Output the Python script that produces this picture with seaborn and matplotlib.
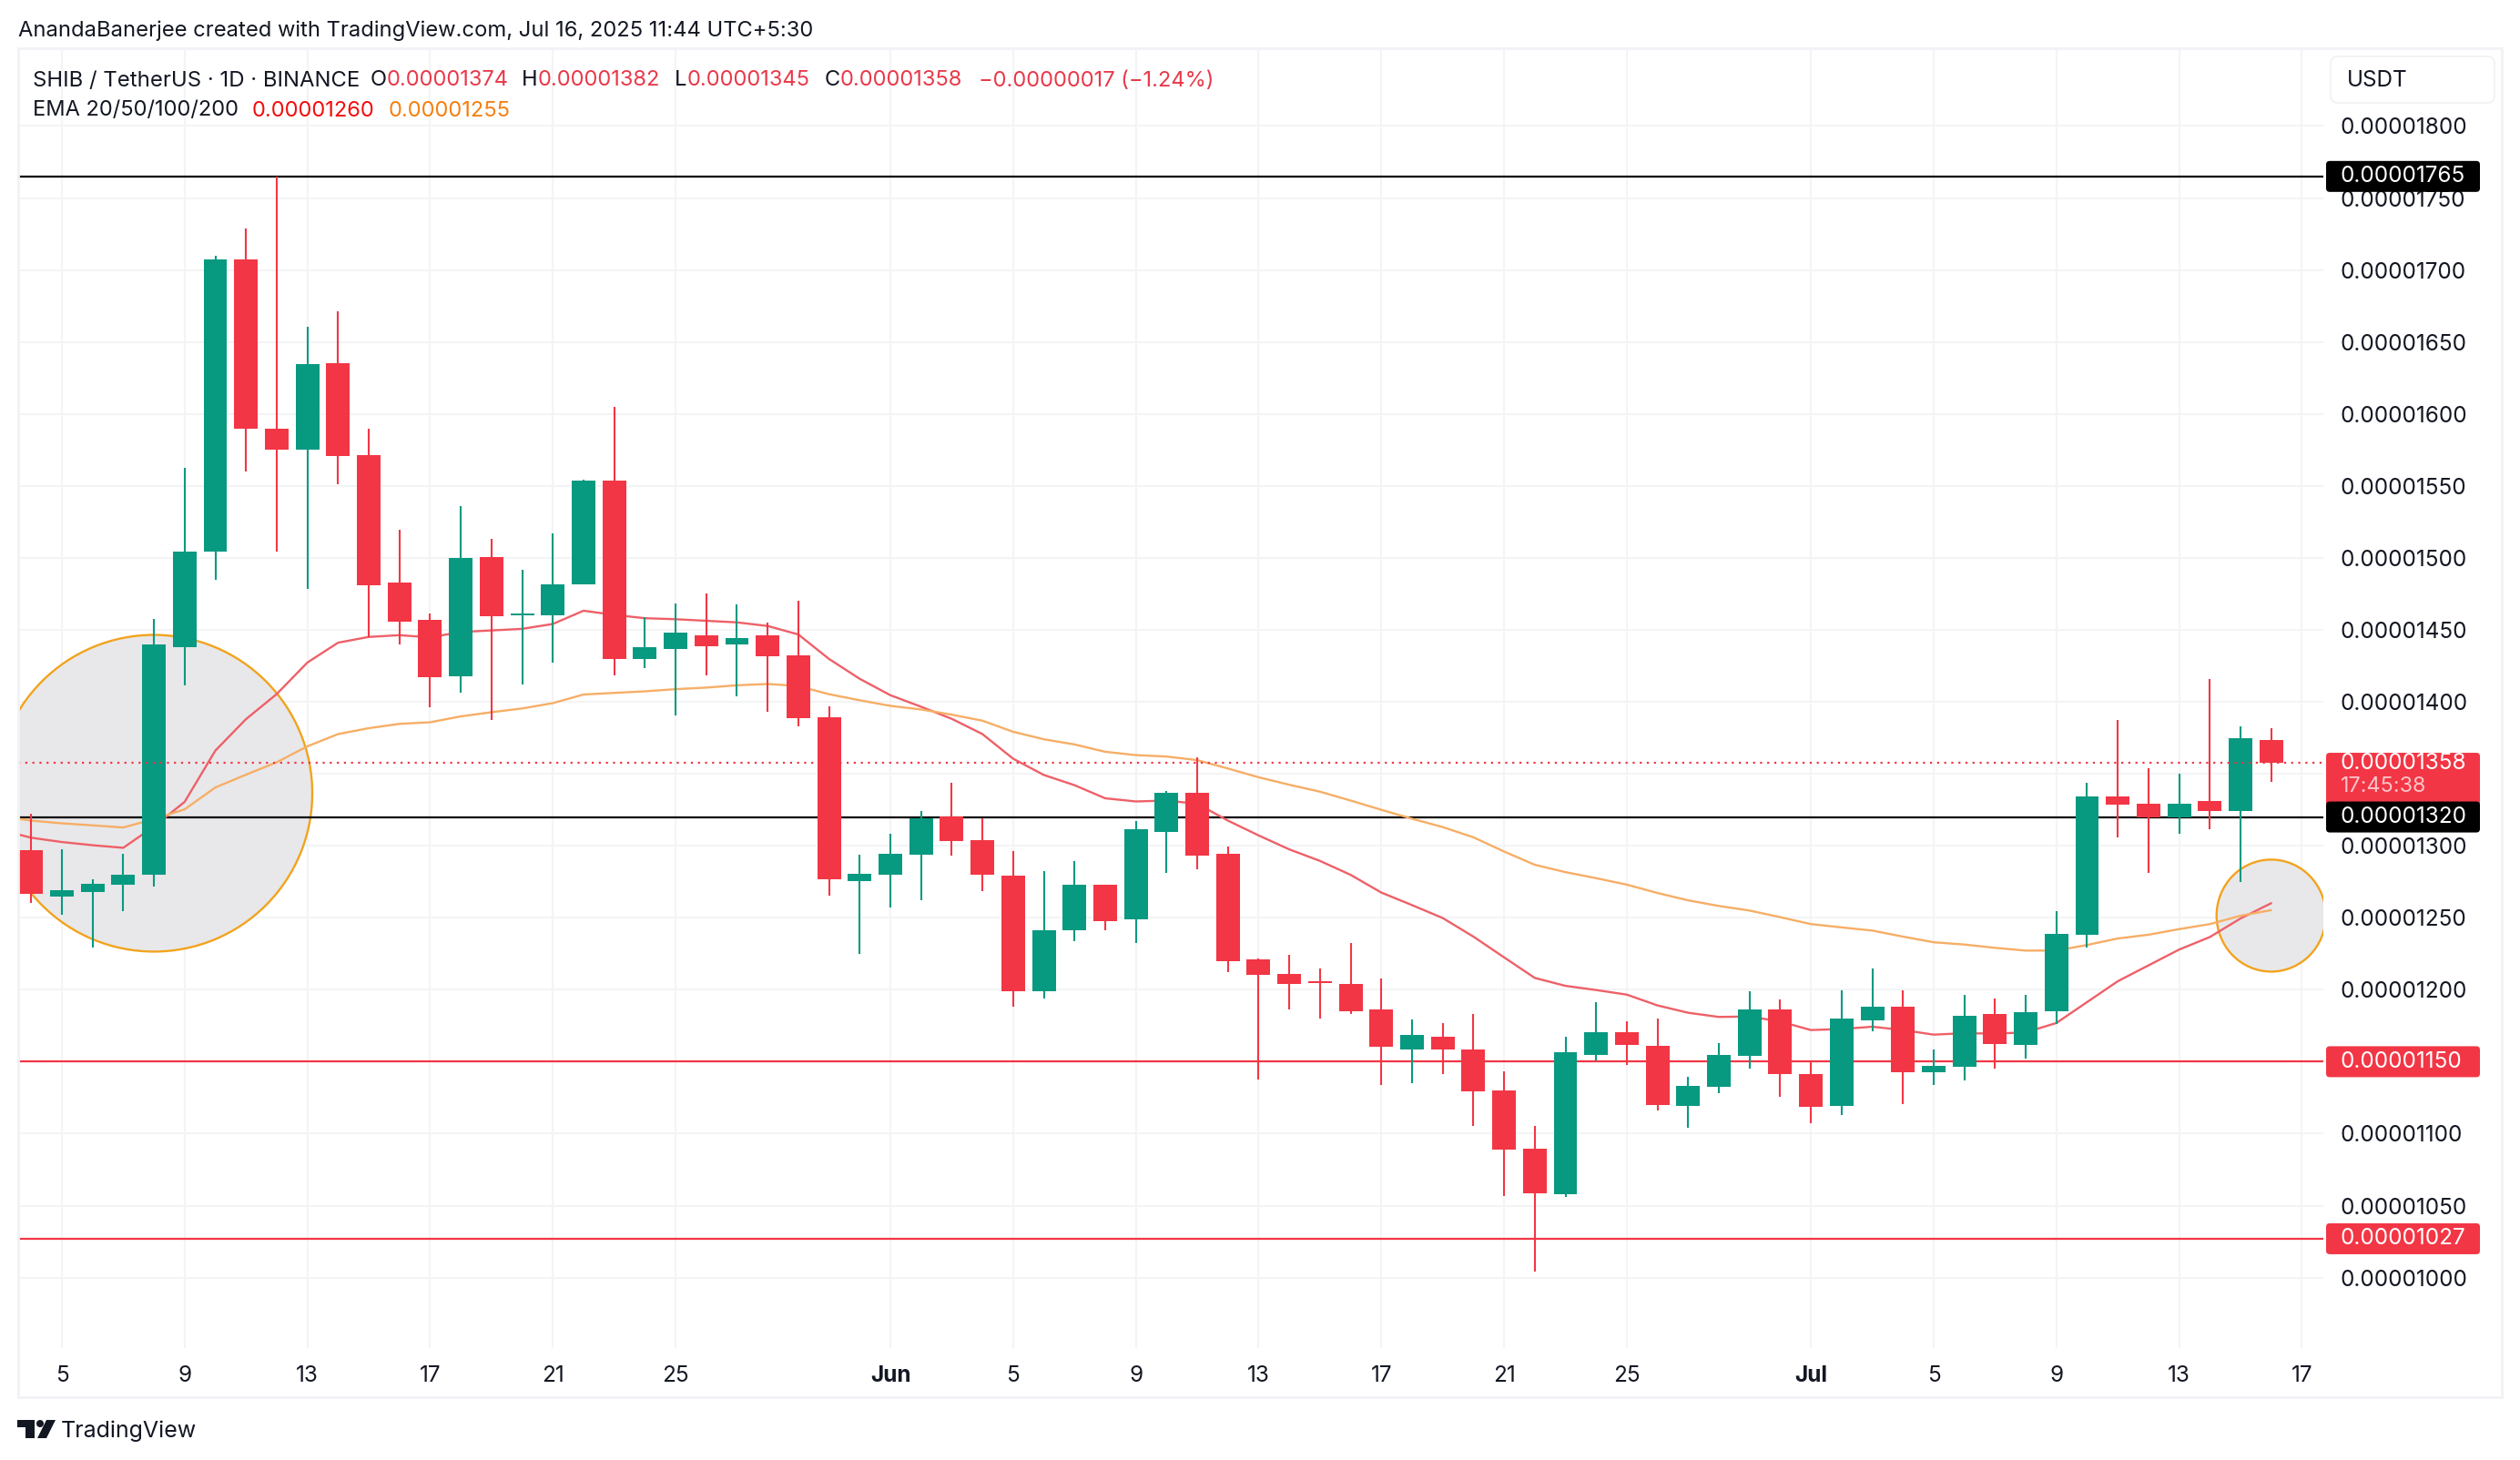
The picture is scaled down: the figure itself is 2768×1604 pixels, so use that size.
import pandas as pd
import numpy as np
import matplotlib.pyplot as plt
import matplotlib.dates as mdates
from matplotlib.patches import Ellipse, FancyBboxPatch, Rectangle, Polygon, Circle
import seaborn as sns

# Prices are in units of 1e-8 USDT
dates = pd.date_range('2025-05-04', '2025-07-16')

opens = [1296.7, 1264.8, 1268.1, 1273.0, 1280.0, 1438.0, 1504.2, 1707.1, 1589.9, 1575.4,
         1635.5, 1571.7, 1482.6, 1456.7, 1418.0, 1500.8, 1460.4, 1460.4, 1481.9, 1553.9,
         1430.0, 1437.0, 1446.3, 1440.0, 1445.9, 1432.5, 1389.5, 1275.3, 1280.1, 1294.0,
         1320.1, 1303.7, 1279.5, 1199.2, 1241.1, 1272.7, 1249.2, 1309.8, 1336.6, 1294.6,
         1220.8, 1210.8, 1205.3, 1203.7, 1186.6, 1158.8, 1167.5, 1158.8, 1129.8, 1089.8,
         1058.2, 1155.0, 1170.8, 1160.8, 1119.5, 1132.4, 1154.3, 1186.6, 1141.7, 1119.1,
         1178.5, 1187.9, 1142.4, 1146.2, 1183.0, 1161.4, 1185.3, 1237.9, 1334.0, 1329.5,
         1319.5, 1330.8, 1324.0, 1373.7]
highs = [1322.3, 1297.8, 1277.0, 1294.5, 1457.8, 1562.8, 1710.0, 1729.0, 1764.7, 1660.8,
         1671.2, 1589.9, 1519.8, 1461.5, 1535.7, 1513.4, 1491.9, 1516.8, 1554.6, 1604.7,
         1458.9, 1468.5, 1475.6, 1467.8, 1454.8, 1470.0, 1396.6, 1293.7, 1308.2, 1324.0,
         1344.0, 1318.8, 1296.6, 1282.7, 1289.2, 1272.7, 1316.9, 1337.9, 1361.7, 1299.8,
         1222.0, 1224.0, 1214.6, 1232.7, 1207.5, 1179.1, 1176.6, 1183.3, 1143.0, 1105.6,
         1167.2, 1191.1, 1177.9, 1179.8, 1139.8, 1162.7, 1198.8, 1193.0, 1150.8, 1199.8,
         1214.6, 1199.8, 1158.8, 1196.6, 1193.7, 1196.6, 1254.6, 1344.0, 1387.2, 1353.7,
         1349.8, 1415.6, 1382.7, 1382.0]
lows = [1260.0, 1251.8, 1229.6, 1254.8, 1271.9, 1411.4, 1484.9, 1560.2, 1504.2, 1478.6,
        1550.9, 1445.1, 1439.6, 1396.5, 1406.6, 1387.6, 1411.8, 1427.3, 1481.9, 1418.1,
        1423.6, 1390.6, 1418.5, 1403.6, 1392.8, 1382.8, 1265.6, 1224.6, 1256.9, 1262.4,
        1293.0, 1268.8, 1188.5, 1193.7, 1234.0, 1241.1, 1232.7, 1281.4, 1284.0, 1212.0,
        1137.9, 1186.6, 1179.8, 1183.3, 1133.7, 1135.0, 1141.7, 1105.6, 1056.9, 1004.0,
        1056.2, 1150.8, 1147.5, 1115.9, 1104.3, 1127.9, 1145.0, 1125.9, 1107.5, 1112.7,
        1171.4, 1120.8, 1133.7, 1136.9, 1145.0, 1152.4, 1175.9, 1229.2, 1305.6, 1281.4,
        1308.2, 1311.7, 1274.6, 1344.6]
closes = [1266.7, 1268.9, 1273.7, 1279.7, 1439.6, 1504.5, 1707.1, 1589.9, 1575.4, 1634.8,
          1571.0, 1481.2, 1455.9, 1417.3, 1499.7, 1459.3, 1461.5, 1481.9, 1553.9, 1430.0,
          1437.7, 1447.8, 1438.9, 1444.4, 1431.8, 1388.8, 1276.6, 1280.8, 1294.6, 1318.8,
          1303.0, 1280.1, 1199.2, 1241.1, 1272.7, 1247.9, 1311.7, 1336.6, 1293.0, 1220.1,
          1210.1, 1204.3, 1204.6, 1185.3, 1160.1, 1168.8, 1158.2, 1129.1, 1089.1, 1058.8,
          1156.9, 1170.8, 1161.4, 1120.1, 1133.0, 1155.0, 1186.6, 1141.1, 1118.5, 1179.8,
          1188.5, 1142.4, 1146.9, 1181.7, 1162.0, 1184.6, 1238.5, 1334.0, 1328.8, 1319.5,
          1329.5, 1324.0, 1375.0, 1357.5]

# EMAs start one day before the first candle, the chart cuts them off at the left edge
ema_dates = pd.date_range('2025-05-03', '2025-07-16')
ema20 = [1311.0, 1305.6, 1302.6, 1300.4, 1298.6, 1313.4, 1330.5, 1366.1, 1388.0, 1405.4,
         1427.3, 1441.1, 1445.1, 1446.3, 1444.8, 1448.5, 1449.6, 1450.7, 1454.1, 1463.3,
         1460.4, 1458.1, 1457.4, 1456.3, 1455.2, 1452.7, 1446.8, 1429.8, 1416.0, 1404.6,
         1396.6, 1388.2, 1377.6, 1360.5, 1349.2, 1342.1, 1333.0, 1330.8, 1331.4, 1329.2,
         1317.5, 1307.2, 1297.5, 1289.5, 1279.8, 1267.5, 1258.8, 1249.8, 1236.9, 1222.5,
         1208.2, 1202.7, 1199.8, 1196.6, 1189.1, 1184.0, 1181.1, 1181.4, 1177.9, 1172.0,
         1172.7, 1174.3, 1172.0, 1168.8, 1169.8, 1169.5, 1170.4, 1176.9, 1191.4, 1205.9,
         1216.9, 1227.9, 1236.6, 1249.5, 1260.1]
ema50 = [1320.5, 1317.5, 1315.6, 1314.2, 1312.7, 1318.6, 1325.3, 1340.5, 1349.4, 1358.0,
         1369.1, 1377.6, 1381.7, 1384.7, 1385.8, 1389.9, 1392.8, 1395.4, 1399.1, 1405.1,
         1406.2, 1407.3, 1408.8, 1409.9, 1411.5, 1412.4, 1411.0, 1405.3, 1401.1, 1397.2,
         1394.7, 1391.1, 1386.9, 1379.2, 1374.0, 1370.4, 1365.3, 1363.0, 1362.0, 1359.5,
         1353.7, 1347.6, 1342.4, 1337.6, 1331.4, 1325.0, 1318.8, 1313.0, 1305.9, 1296.0,
         1286.8, 1281.7, 1277.5, 1273.0, 1267.2, 1262.1, 1258.2, 1255.0, 1250.4, 1245.6,
         1243.3, 1241.1, 1236.9, 1233.0, 1231.4, 1229.1, 1227.2, 1227.2, 1231.1, 1235.6,
         1238.2, 1242.1, 1245.6, 1251.4, 1255.3]

price_ticks = list(range(1000, 1801, 50))
tick_dates = ['2025-05-05', '2025-05-09', '2025-05-13', '2025-05-17', '2025-05-21', '2025-05-25',
              '2025-06-01', '2025-06-05', '2025-06-09', '2025-06-13', '2025-06-17', '2025-06-21',
              '2025-06-25', '2025-07-01', '2025-07-05', '2025-07-09', '2025-07-13', '2025-07-17']
tick_labels = ['5', '9', '13', '17', '21', '25', 'Jun', '5', '9', '13', '17', '21', '25',
               'Jul', '5', '9', '13', '17']

GREEN = '#089981'
RED = '#f23645'
EMA_RED = '#ee6068'
EMA_ORANGE = '#f6ae66'
GRID = '#f3f4f6'
W, H = 2768, 1604
LABEL_SIZE = 17.5

sns.set_theme(style='white')
plt.rcParams['font.family'] = ['Inter', 'DejaVu Sans']

fig = plt.figure(figsize=(W / 100, H / 100), dpi=100)
fig.patch.set_facecolor('white')


def px_rect(x0, y0, x1, y1):
    return [x0 / W, 1 - y1 / H, (x1 - x0) / W, (y1 - y0) / H]


# main price pane
ax = fig.add_axes(px_rect(20, 54.5, 2552, 1480.5))
ax.set_xlim(mdates.date2num(pd.Timestamp('2025-05-05')) - 1.424,
            mdates.date2num(pd.Timestamp('2025-05-05')) + 73.7)
ax.set_ylim(951.4, 1853.1)
sns.despine(ax=ax, left=True, bottom=True, right=True, top=True)

ax.set_axisbelow(True)
ax.grid(True, color=GRID, lw=1.5)
ax.set_yticks(price_ticks)
# the 1350 label sits under the last price tag, TradingView drops it
ax.set_yticklabels(['' if p == 1350 else f'{p / 1e8:.8f}' for p in price_ticks])
ax.yaxis.tick_right()
ax.set_xticks(mdates.date2num(pd.to_datetime(tick_dates)))
ax.set_xticklabels(tick_labels)
ax.tick_params(axis='y', length=0, pad=13.5, labelsize=LABEL_SIZE, labelcolor='#131722')
ax.tick_params(axis='x', length=0, pad=14, labelsize=LABEL_SIZE, labelcolor='#131722')
for lab in ax.get_xticklabels():
    if lab.get_text() in ('Jun', 'Jul'):
        lab.set_fontweight('bold')
for lab in ax.get_yticklabels():
    lab.set_ha('left')

# highlight circles
circle_fill = '#e8e8ea'
circle_edge = '#f2a31d'
big_c = mdates.date2num(pd.Timestamp('2025-05-08'))
small_c = mdates.date2num(pd.Timestamp('2025-07-16'))
ax.add_patch(Ellipse((big_c, 1336.5), 10.32, 220, fc=circle_fill, ec=circle_edge, lw=1.7, zorder=1))
ax.add_patch(Ellipse((small_c, 1251.5), 3.56, 77.8, fc=circle_fill, ec=circle_edge, lw=1.7, zorder=1))

# horizontal levels
for level, col in [(1765, 'black'), (1320, 'black'), (1150, RED), (1027, RED)]:
    ax.axhline(level, color=col, lw=1.6, zorder=1.5)
ax.axhline(closes[-1], color=RED, lw=1.6, ls=(0, (1, 2.5)), zorder=4)

# EMAs
ema_df = pd.DataFrame({'date': ema_dates, 'ema20': ema20, 'ema50': ema50})
sns.lineplot(data=ema_df, x='date', y='ema20', color=EMA_RED, lw=1.7, ax=ax, zorder=2)
sns.lineplot(data=ema_df, x='date', y='ema50', color=EMA_ORANGE, lw=1.7, ax=ax, zorder=2)
ax.set_xlabel('')
ax.set_ylabel('')

# candles
df = pd.DataFrame({'date': dates, 'o': opens, 'h': highs, 'l': lows, 'c': closes})
df['color'] = np.where(df['c'] >= df['o'], GREEN, RED)
x = mdates.date2num(df['date'])
ax.vlines(x, df['l'], df['h'], colors=df['color'], lw=1.5, zorder=3)
ax.bar(x, (df['c'] - df['o']).abs().clip(lower=1.2), bottom=df[['o', 'c']].min(axis=1),
       width=0.77, color=df['color'], lw=0, zorder=3.5)

# price labels on the scale
axr = fig.add_axes(px_rect(2552, 54.5, 2768, 1480.5), sharey=ax)
axr.set_xlim(2552, 2768)
axr.patch.set_alpha(0)
axr.axis('off')
axr.set_zorder(5)
unit = (1480.5 - 54.5) / (1853.1 - 951.4)


def price_box(price, text, color, top_px=17, bottom_px=17):
    axr.add_patch(FancyBboxPatch((2555, price - bottom_px / unit), 169, (top_px + bottom_px) / unit,
                                 boxstyle='round,pad=0,rounding_size=4', mutation_aspect=1 / unit,
                                 fc=color, ec='none', clip_on=False))
    if text:
        axr.text(2571, price, text, color='white', fontsize=LABEL_SIZE, va='center', ha='left')


price_box(1765, '0.00001765', 'black')
price_box(1150, '0.00001150', RED)
price_box(1027, '0.00001027', RED)
price_box(1345, '', RED, top_px=31, bottom_px=31)
axr.text(2571, closes[-1], '0.00001358', color='white', fontsize=LABEL_SIZE, va='center', ha='left')
axr.text(2571, 1341, '17:45:38', color='#fbc4c9', fontsize=16.8, va='center', ha='left')
price_box(1320, '0.00001320', 'black')

# page furniture in pixel coordinates
ov = fig.add_axes([0, 0, 1, 1])
ov.set_xlim(0, W)
ov.set_ylim(H, 0)
ov.patch.set_alpha(0)
ov.axis('off')
ov.set_zorder(6)

ov.add_patch(Rectangle((20, 53), 2728, 1482, fc='none', ec='#f1f2f5', lw=2))
ov.add_patch(FancyBboxPatch((2560, 62), 180, 51, boxstyle='round,pad=0,rounding_size=8',
                            fc='white', ec='#f0f1f4', lw=1.2))
ov.text(2578, 88.5, 'USDT', fontsize=LABEL_SIZE, color='#131722', va='center')

ov.text(20, 34, 'AnandaBanerjee created with TradingView.com, Jul 16, 2025 11:44 UTC+5:30',
        fontsize=17.1, color='#131722', va='center')
ov.text(36, 88.5, 'SHIB / TetherUS · 1D · BINANCE', fontsize=17.2, color='#131722', va='center')
ov.text(36, 121.5, 'EMA 20/50/100/200', fontsize=17, color='#131722', va='center')

legend_red = '#e8394a'
for xp, txt, col in [(407, 'O', '#131722'), (425, '0.00001374', legend_red),
                     (573, 'H', '#131722'), (591, '0.00001382', legend_red),
                     (741, 'L', '#131722'), (755, '0.00001345', legend_red),
                     (906, 'C', '#131722'), (923, '0.00001358', legend_red),
                     (1075, '\u22120.00000017 (\u22121.24%)', legend_red)]:
    ov.text(xp, 88.5, txt, fontsize=17, color=col, va='center')
ov.text(277, 121.5, '0.00001260', fontsize=17, color='#f20d0d', va='center')
ov.text(427, 121.5, '0.00001255', fontsize=17, color='#f57f0f', va='center')

# TradingView mark
ov.add_patch(Polygon([(19, 1560), (38, 1560), (38, 1580), (28, 1580), (28, 1568), (19, 1568)],
                     fc='#131722', ec='none'))
ov.add_patch(Circle((44, 1564), 4, fc='#131722', ec='none'))
ov.add_patch(Polygon([(51, 1560), (61, 1560), (51, 1580), (41, 1580)], fc='#131722', ec='none'))
ov.text(67, 1572.5, 'TradingView', fontsize=18, color='#131722', va='center')

fig.savefig('out.png', dpi=100)
